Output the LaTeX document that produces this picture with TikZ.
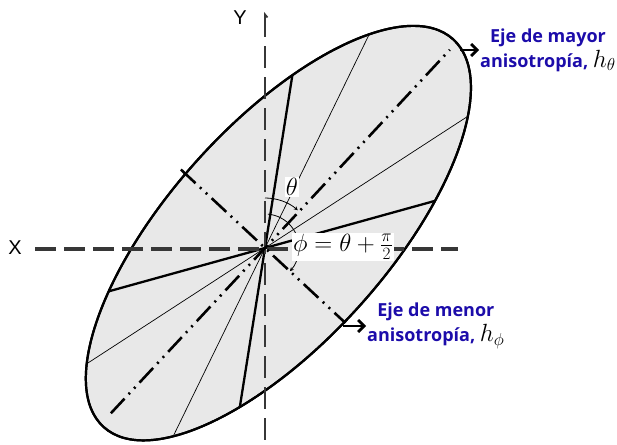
\documentclass[tikz,border=0pt]{standalone}
\usepackage{fontspec}
\newfontfamily\labfont{Open Sans}[UprightFont=*-Bold]
\newfontfamily\axfont{Liberation Sans}
\usetikzlibrary{arrows.meta,calc}
\definecolor{labblue}{RGB}{28,12,170}
\definecolor{ellgray}{RGB}{232,232,232}
\definecolor{axgray}{RGB}{55,55,55}
\newcommand{\hsym}[1]{{\color{black}\fontsize{23}{23}\selectfont$h_{#1}$}}
\newcommand{\labsize}{\labfont\fontsize{18}{25}\selectfont}
\begin{document}
\begin{tikzpicture}[x=1pt,y=1pt,
  border/.style={line width=2.2pt, draw=black, fill=ellgray},
  thickchord/.style={line width=2.3pt},
  thinchord/.style={line width=0.7pt},
  axisdd/.style={line width=2.6pt, dash pattern=on 20pt off 6pt on 2pt off 6pt on 2pt off 6pt},
  xaxis/.style={draw=axgray, line width=3.5pt, dash pattern=on 21pt off 8pt},
  yaxis/.style={draw=axgray, line width=1.8pt, dash pattern=on 22pt off 9pt},
  arcline/.style={line width=0.8pt, -{Stealth[length=4pt,width=4pt]}},
  pointer/.style={line width=2.8pt, -{Straight Barb[length=6pt,width=12pt]}},
  bluelab/.style={text=labblue, font=\labsize, align=center, inner sep=1pt},
  mathlab/.style={fill=white, inner sep=1pt, font=\fontsize{27}{29}\selectfont},
  axlab/.style={font=\axfont\fontsize{20}{20}\selectfont, inner sep=0pt}
]
\useasboundingbox (0,0) rectangle (617,444);
\coordinate (O) at (265,196);
\coordinate (C) at ($(O)+(48:20)$);
% ellipse
\draw[border, rotate around={48:(C)}] (C) ellipse [x radius=261, y radius=109];
% chords
\begin{scope}
  \clip[rotate around={48:(C)}] (C) ellipse [x radius=261, y radius=109];
  \draw[thickchord] ($(O)+(81:300)$) -- ($(O)+(261:300)$);
  \draw[thickchord] ($(O)+(15.5:300)$) -- ($(O)+(195.5:300)$);
  \draw[thinchord] ($(O)+(64:300)$) -- ($(O)+(244:300)$);
  \draw[thinchord] ($(O)+(33:300)$) -- ($(O)+(213:300)$);
\end{scope}
\draw[border, fill=none, rotate around={48:(C)}] (C) ellipse [x radius=261, y radius=109];
% coordinate axes
\coordinate (xl) at (35,195);
\coordinate (xr) at (458,195);
\coordinate (yt) at (265,432);
\coordinate (yb) at (265,0);
\draw[xaxis] (xl) -- (xr);
\draw[yaxis, {Straight Barb[right,length=3pt,width=5pt]}-] (yt) -- (yb);
\node[axlab] (xlab) at (15,196) {X};
\node[axlab] (ylab) at (240,426) {Y};
% anisotropy axes
\coordinate (majA) at ($(O)+(227:226)$);
\coordinate (majB) at ($(O)+(47:271)$);
\draw[axisdd] (majA) -- (majB);
\coordinate (minA) at ($(O)+(137:115)$);
\coordinate (minB) at ($(O)+(-43:110)$);
\draw[axisdd] (minA) -- (minB);
% angle arcs
\draw[arcline] ($(O)+(90:50)$) arc[start angle=90, end angle=49, radius=50];
\draw[arcline] ($(O)+(85:34)$) arc[start angle=85, end angle=-43, radius=34];
\node[mathlab] (th) at (292,257) {$\theta$};
\node[mathlab] (ph) at (343,197) {$\phi=\theta+\frac{\pi}{2}$};
% labels
\node[bluelab, anchor=west] (lmaj) at (479,394) {{\labsize Eje de mayor}\\{\labsize anisotropía,} \hsym{\theta}};
\node[bluelab, anchor=west] (lmin) at (366,118) {{\labsize Eje de menor}\\{\labsize anisotropía,} \hsym{\phi}};
\coordinate (majtip) at (460,394);
\coordinate (mintip) at (343,118);
\draw[pointer] (majtip) -- (majtip -| lmaj.west);
\draw[pointer] (mintip) -- (mintip -| lmin.west);
\end{tikzpicture}
\end{document}
